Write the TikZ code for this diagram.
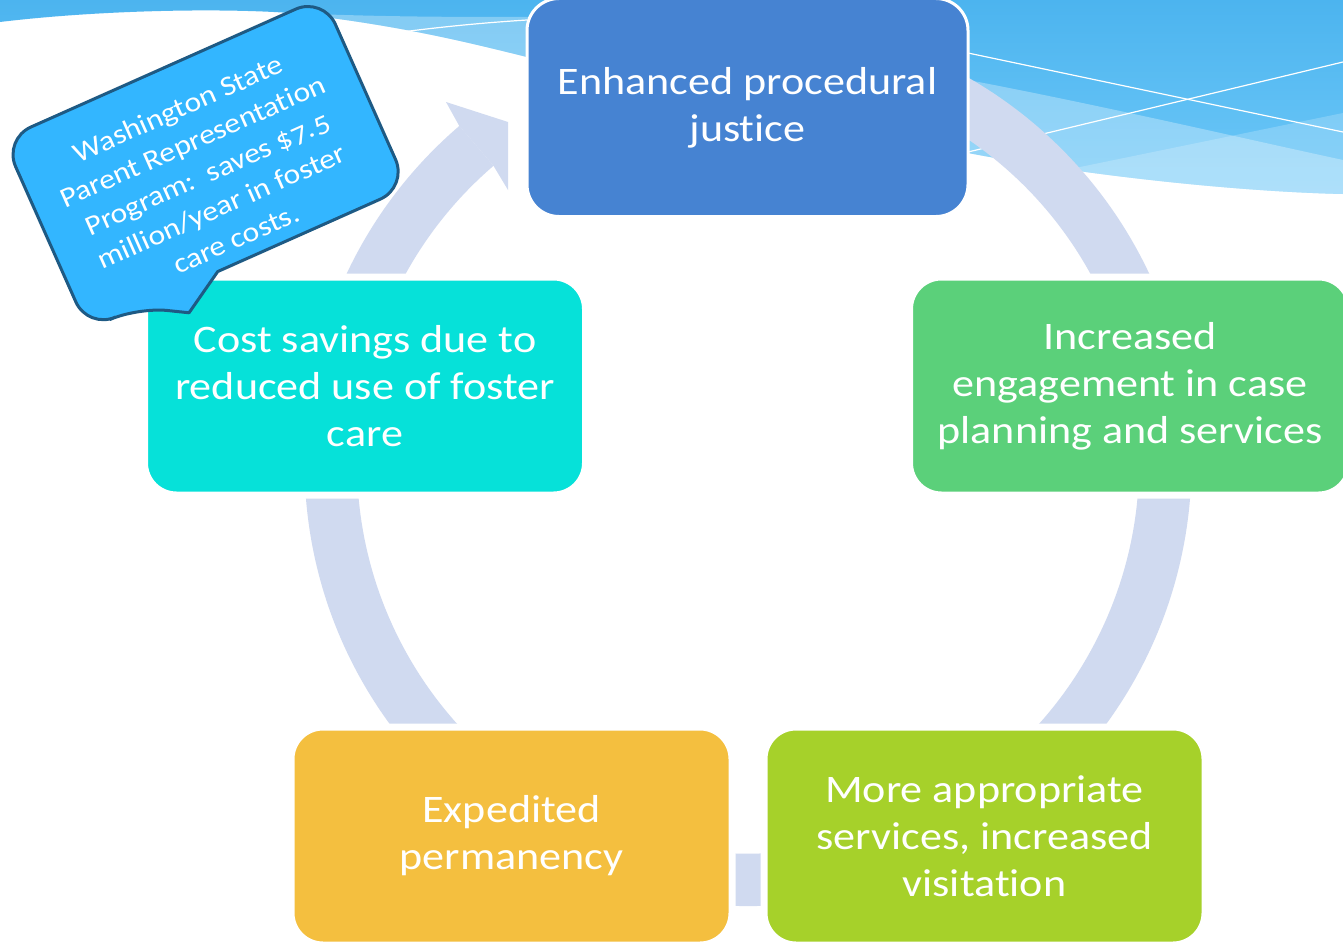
\documentclass[tikz,border=0pt]{standalone}
\usepackage{fontspec}
\setmainfont{Carlito}[Numbers=OldStyle, Ligatures=CommonOff, FakeStretch=1.13]
\definecolor{skytop}{HTML}{4CB4EF}
\definecolor{skybottom}{HTML}{6FC9F8}
\definecolor{ringcol}{HTML}{D0DAF0}
\definecolor{justblue}{HTML}{4683D2}
\definecolor{engagegreen}{HTML}{5BD07A}
\definecolor{servlime}{HTML}{A6D12A}
\definecolor{permgold}{HTML}{F4BF3F}
\definecolor{costcyan}{HTML}{06E1D9}
\definecolor{notefill}{HTML}{33B6FF}
\definecolor{noteedge}{HTML}{1E5A84}
\begin{document}
\begin{tikzpicture}[x=1pt,y=-1pt,
  stage/.style={rounded corners=32pt, minimum width=441pt, minimum height=218pt,
    draw=white, line width=7pt, text=white, align=center, inner sep=0pt,
    font=\fontsize{39}{47}\selectfont},
  ringpart/.style={fill=ringcol},
  notebox/.style={fill=notefill, draw=noteedge, line width=3pt, line join=round},
  notetext/.style={text=white, align=center, inner sep=0pt, transform shape,
    font=\fontsize{28}{35.6}\selectfont},
  waveline/.style={draw=white, line width=1.2pt}]

\useasboundingbox (0,0) rectangle (1343,942);
\clip (0,0) rectangle (1343,942);
\fill[white] (0,0) rectangle (1343,942);

% sky band along the top edge
\begin{scope}
  \clip (0,0) -- (0,22) .. controls (100,10) and (220,8) .. (290,13)
        .. controls (400,25) and (470,43) .. (527,57) -- (968,153)
        .. controls (1100,178) and (1250,192) .. (1343,194) -- (1343,0) -- cycle;
  \shade[top color=skytop, bottom color=skybottom] (0,0) rectangle (1343,200);
  \fill[white, opacity=.3] (0,22) .. controls (100,10) and (220,8) .. (290,13)
        .. controls (380,17) and (460,17) .. (527,17) -- (968,80)
        .. controls (1100,105) and (1250,140) .. (1343,160) -- (1343,260) -- (0,260) -- cycle;
  \fill[white, opacity=.2] (968,190) -- (1080,167) -- (1343,113) -- (1343,260) -- (968,260) -- cycle;
\end{scope}
\draw[waveline] (394,33) .. controls (440,27) and (480,23) .. (527,20);
\draw[waveline] (968,53) -- (1343,132);
\draw[waveline] (968,152) -- (1343,62);

% cycle ring with its arrowhead
\begin{scope}[shift={(748,462.6)}]
  \fill[ringpart] (-130.6:443.5) arc[start angle=-130.6, end angle=-422, radius=443.5]
        -- (-422:391) arc[start angle=-422, end angle=-130.6, radius=391] -- cycle;
\end{scope}
\fill[ringpart] (446,102) -- (508,122) -- (508,190) -- (493.5,165.8) -- (459.3,126) -- cycle;

% stages of the cycle
\node[stage, fill=justblue, line width=3pt] (justice) at (747.5,107.5)
  {Enhanced procedural\\justice};
\node[stage, fill=engagegreen] (engage) at (1130,386)
  {Increased\\engagement in case\\planning and services};
\node[stage, fill=servlime] (services) at (984.5,836)
  {More appropriate\\services, increased\\visitation};
\node[stage, fill=permgold] (permanency) at (511.5,836)
  {Expedited\\permanency};
\node[stage, fill=costcyan] (savings) at (365,386)
  {Cost savings due to\\reduced use of foster\\care};

% callout about the Washington program
\begin{scope}[shift={(205.6,163.1)}, rotate=24]
  \draw[notebox] (-33,104) [rounded corners=30pt] -- (175,104) -- (175,-104)
        -- (-175,-104) -- (-175,104) -- (-121,104) [sharp corners] -- (-76,130) -- cycle;
  \node[notetext] (note) at (-3,10)
    {Washington State\\Parent Representation\\Program:\ \ saves \$7.5\\million/year in foster\\care costs.};
\end{scope}
\end{tikzpicture}
\end{document}
